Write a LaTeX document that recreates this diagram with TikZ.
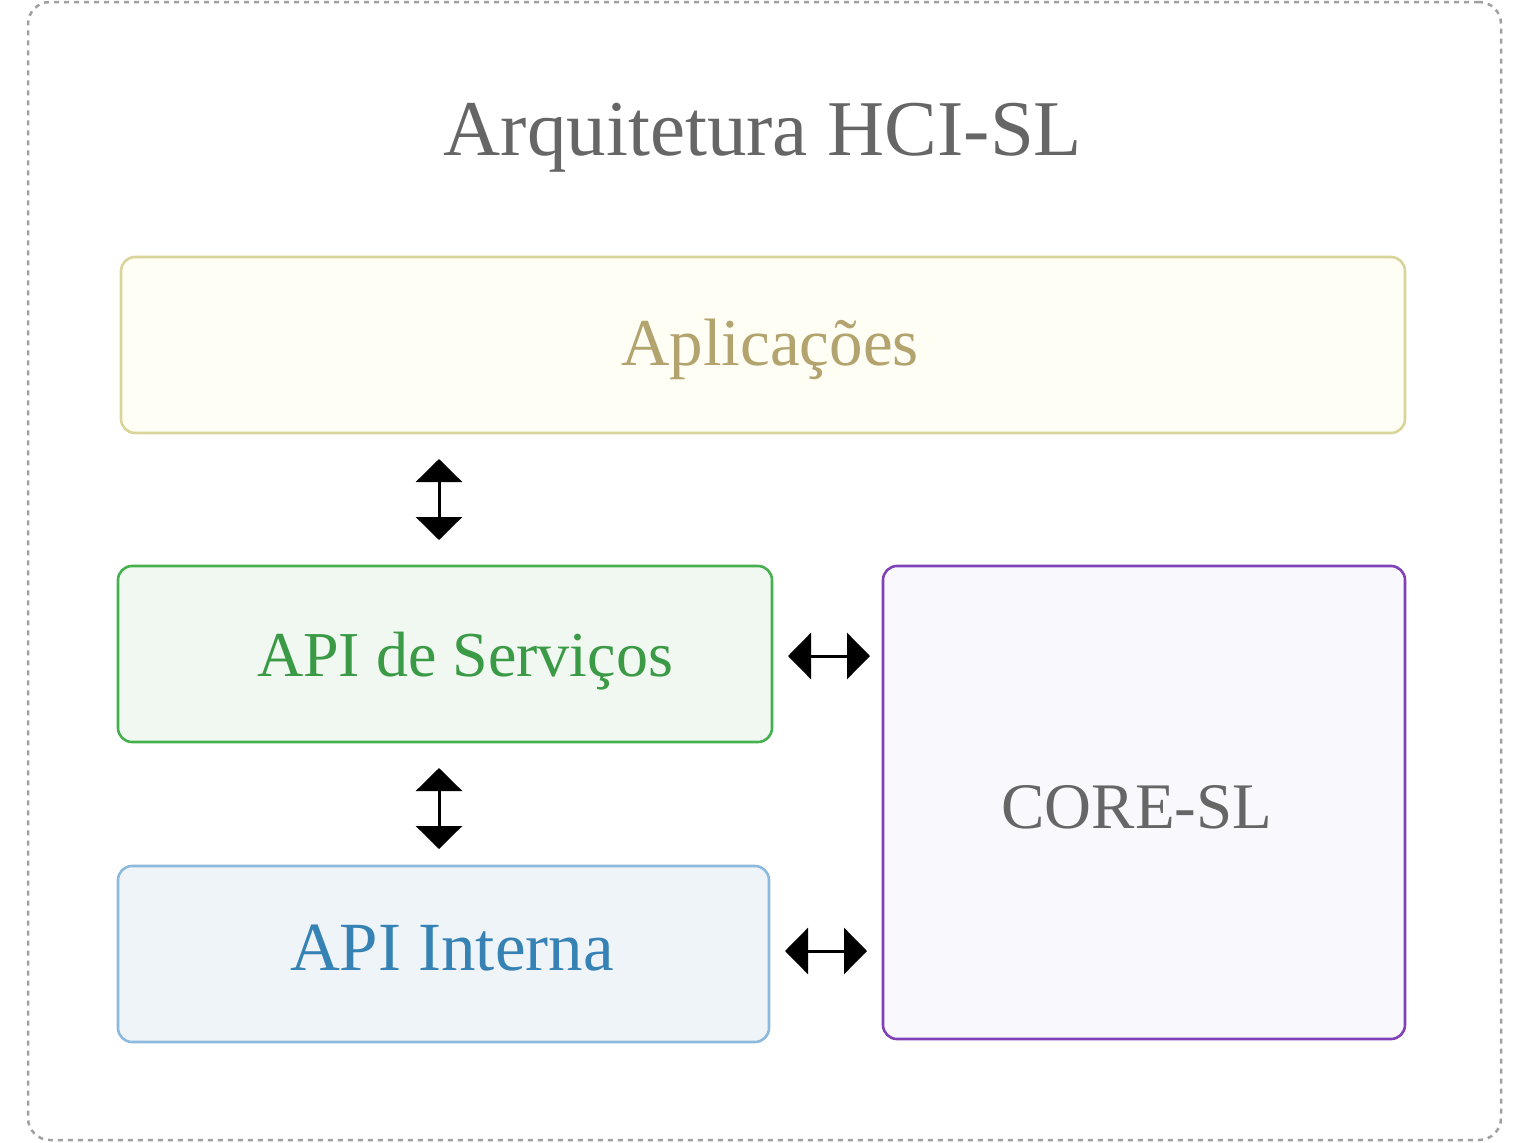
\documentclass[tikz,border=0pt]{standalone}
\usepackage{fontspec}
\setmainfont{Liberation Serif}
\usetikzlibrary{arrows.meta}
\definecolor{outergray}{HTML}{A0A0A0}
\definecolor{titlegray}{HTML}{666666}
\definecolor{appfill}{HTML}{FEFEF4}
\definecolor{appline}{HTML}{D9D59A}
\definecolor{apptext}{HTML}{B3A36E}
\definecolor{svcfill}{HTML}{F1F8F1}
\definecolor{svcline}{HTML}{45B04E}
\definecolor{svctext}{HTML}{3A9A45}
\definecolor{intfill}{HTML}{EFF4F9}
\definecolor{intline}{HTML}{8CB9DC}
\definecolor{inttext}{HTML}{3682B5}
\definecolor{corefill}{HTML}{F9F8FD}
\definecolor{coreline}{HTML}{8040B8}
\tikzset{
  layerbox/.style={rectangle, rounded corners=14pt, line width=2.6pt, inner sep=0pt, outer sep=0pt},
  boxtext/.style={anchor=base, inner sep=0pt, font=\fontsize{64}{70}\selectfont},
  biarrow/.style={line width=3pt, {Triangle[width=46pt,length=23pt]}-{Triangle[width=46pt,length=23pt]}},
}
\begin{document}
\begin{tikzpicture}[x=1pt,y=-1pt]
\useasboundingbox (0,0) rectangle (1524,1143);
\node[draw=outergray, dash pattern=on 5pt off 5pt, line width=2.5pt, rounded corners=22pt, minimum width=1473pt, minimum height=1138pt, inner sep=0pt] (frame) at (764.5,571) {};
\node[anchor=base, inner sep=0pt, text=titlegray, font=\fontsize{79}{85}\selectfont] (title) at (763,155) {Arquitetura HCI-SL};

\node[layerbox, draw=appline, fill=appfill, minimum width=1284pt, minimum height=176pt] (apps) at (763,345) {};
\node[boxtext, text=apptext, font=\fontsize{67}{73}\selectfont] (appst) at (770,365) {Aplicações};

\node[layerbox, draw=svcline, fill=svcfill, minimum width=654pt, minimum height=176pt] (svc) at (445,654) {};
\node[boxtext, text=svctext] (svct) at (465,676) {API de Serviços};

\node[layerbox, draw=intline, fill=intfill, minimum width=651pt, minimum height=176pt] (int) at (443.5,954) {};
\node[boxtext, text=inttext, font=\fontsize{69}{75}\selectfont] (intt) at (452,970) {API Interna};

\node[layerbox, draw=coreline, fill=corefill, minimum width=522pt, minimum height=473pt] (core) at (1144,802.5) {};
\node[boxtext, text=titlegray, font=\fontsize{65}{71}\selectfont] (coret) at (1137,828) {CORE-SL};

\draw[biarrow] ([xshift=-6pt,yshift=26pt]svc.north) -- ([xshift=-6pt,yshift=-26pt]apps.south -| svc.north);
\draw[biarrow] ([xshift=-6pt,yshift=-26pt]svc.south) -- ([xshift=-6pt,yshift=17pt]int.north -| svc.south);
\draw[biarrow] ([xshift=16pt,yshift=-2pt]svc.east) -- ([xshift=-13pt,yshift=-2pt]core.west |- svc.east);
\draw[biarrow] ([xshift=16pt,yshift=3pt]int.east) -- ([xshift=-16pt,yshift=3pt]core.west |- int.east);
\end{tikzpicture}
\end{document}
